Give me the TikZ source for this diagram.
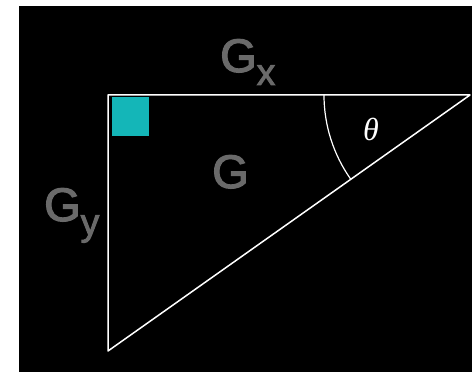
\documentclass[tikz,border=0pt]{standalone}
\usepackage{fontspec}
\setmainfont{Liberation Sans}
\newfontfamily\labelfont{Liberation Sans}[FakeBold=2.5]
\newfontfamily\anglefont{Liberation Serif}
\definecolor{labelgray}{HTML}{6A6A6A}
\definecolor{marker}{HTML}{14B6B8}
\newcommand{\lowered}[2]{\raisebox{#1}{\fontsize{37}{37}\selectfont #2}}

\begin{document}
\begin{tikzpicture}[x=1pt,y=1pt,
  edge/.style={draw=white,line width=1.5pt,line join=round},
  anglearc/.style={draw=white,line width=1.2pt},
  quantity/.style={text=labelgray,inner sep=0pt,anchor=base west,font=\labelfont\fontsize{47}{47}\selectfont}
]
% frame
\fill[white] (0,0) rectangle (472,372);
\fill[black] (19,0) rectangle (472,366);
% triangle
\coordinate (corner) at (108,277);
\coordinate (tip) at (470,277);
\coordinate (foot) at (108,21);
\fill[marker] (112,236) rectangle (149,275);
\draw[edge] (foot) -- (corner) -- (tip) -- cycle;
\draw[anglearc] ([shift={(180:146pt)}]tip) arc[start angle=180,end angle=215.27,radius=146pt];
% labels
\node[quantity] (gx) at (220,300) {G\lowered{-13pt}{x}};
\node[quantity] (gmag) at (212,184) {G};
\node[quantity] (gy) at (44,151) {G\lowered{-14pt}{y}};
\node[text=white,font=\anglefont\itshape\fontsize{32}{32}\selectfont] (theta) at (371,243) {θ};
\end{tikzpicture}
\end{document}
